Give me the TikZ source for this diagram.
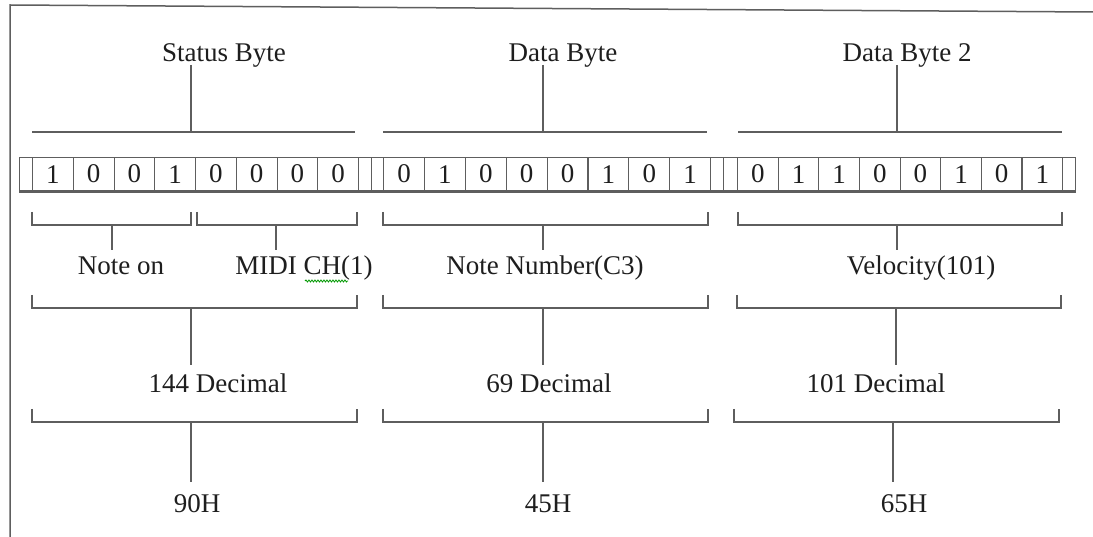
\documentclass[tikz,border=0pt]{standalone}
\usepackage{fontspec}
\setmainfont{Liberation Serif}
\usetikzlibrary{decorations.pathmorphing}
\definecolor{linegray}{HTML}{5E5E5E}
\definecolor{txt}{HTML}{1E1E1E}
\begin{document}
\begin{tikzpicture}[x=1pt,y=-1pt,
  ln/.style={draw=linegray, line width=1.4pt},
  lbl/.style={font=\fontsize{27}{32}\selectfont, text=txt, inner sep=0pt, anchor=base},
  bitbox/.style={draw=linegray, line width=1.2pt, inner sep=0pt, minimum height=33pt,
    anchor=north west, font=\fontsize{27}{32}\selectfont, text=txt}]
\useasboundingbox (0,0) rectangle (1093,537);
\fill[white] (0,0) rectangle (1093,537);
% frame
\draw[linegray, line width=1.5pt] (10,537) -- (10,5) -- (1093,12);

% bit row
\node[bitbox, minimum width=13pt] (p0) at (19,157) {};
\foreach \b [count=\i from 0] in {1,0,0,1,0,0,0,0}
  \node[bitbox, minimum width=40.75pt] (s\i) at ({32+\i*40.75},157) {\b};
\node[bitbox, minimum width=13pt] (p1) at (358,157) {};
\node[bitbox, minimum width=12pt] (p2) at (371,157) {};
\foreach \b [count=\i from 0] in {0,1,0,0,0,1,0,1}
  \node[bitbox, minimum width=40.875pt] (d\i) at ({383+\i*40.875},157) {\b};
\node[bitbox, minimum width=13pt] (p3) at (710,157) {};
\node[bitbox, minimum width=14pt] (p4) at (723,157) {};
\foreach \b [count=\i from 0] in {0,1,1,0,0,1,0,1}
  \node[bitbox, minimum width=40.625pt] (v\i) at ({737+\i*40.625},157) {\b};
\node[bitbox, minimum width=13pt] (p5) at (1062,157) {};
\draw[linegray, line width=2.6pt] ([yshift=-0.6pt]p0.south west) -- ([yshift=-0.6pt]p5.south east);

% top labels and brackets
\node[lbl] (sb) at (224,62) {Status Byte};
\node[lbl] (db) at (563,62) {Data Byte};
\node[lbl] (db2) at (907,62) {Data Byte 2};
\coordinate (tS) at (191,132);
\coordinate (tD) at (543,132);
\coordinate (tV) at (897,132);
\draw[ln] (32,132) -- (355,132);
\draw[ln] (383,132) -- (707,132);
\draw[ln] (738,132) -- (1062,132);
\draw[ln] (tS |- 0,65) -- (tS);
\draw[ln] (tD |- 0,65) -- (tD);
\draw[ln] (tV |- 0,65) -- (tV);

% row A brackets
\draw[ln] (32,212) -- (32,225) -- (191,225) -- (191,212);
\draw[ln] (197,212) -- (197,225) -- (357,225) -- (357,212);
\draw[ln] (383,212) -- (383,225) -- (708,225) -- (708,212);
\draw[ln] (738,212) -- (738,225) -- (1062,225) -- (1062,212);
\coordinate (aN) at (112,225);
\coordinate (aM) at (276,225);
\coordinate (aD) at (543,225);
\coordinate (aV) at (897,225);
\draw[ln] (aN) -- (112,250);
\draw[ln] (aM) -- (276,250);
\draw[ln] (aD) -- (543,250);
\draw[ln] (aV) -- (897,250);
\node[lbl] (non) at (121,275) {Note on};
\node[lbl] (midi) at (304,275) {MIDI CH(1)};
\node[lbl] (nn) at (545,275) {Note Number(C3)};
\node[lbl] (vel) at (921,275) {Velocity(101)};
\draw[green!60!black, line width=0.8pt, decorate,
  decoration={snake, amplitude=1pt, segment length=3pt}] (305,281) -- (348,281);

% row B brackets
\draw[ln] (32,295) -- (32,308) -- (357,308) -- (357,295);
\draw[ln] (383,295) -- (383,308) -- (708,308) -- (708,295);
\draw[ln] (737,295) -- (737,308) -- (1061,308) -- (1061,295);
\draw[ln] (191,308) -- (191,365);
\draw[ln] (543,308) -- (543,365);
\draw[ln] (896,308) -- (896,365);
\node[lbl] (dS) at (218,392) {144 Decimal};
\node[lbl] (dD) at (549,392) {69 Decimal};
\node[lbl] (dV) at (876,392) {101 Decimal};

% row C brackets
\draw[ln] (32,409) -- (32,422) -- (357,422) -- (357,409);
\draw[ln] (383,409) -- (383,422) -- (708,422) -- (708,409);
\draw[ln] (734,409) -- (734,422) -- (1059,422) -- (1059,409);
\draw[ln] (191,422) -- (191,482);
\draw[ln] (543,422) -- (543,482);
\draw[ln] (893,422) -- (893,482);
\node[lbl] (hS) at (197,512) {90H};
\node[lbl] (hD) at (548,512) {45H};
\node[lbl] (hV) at (904,512) {65H};
\end{tikzpicture}
\end{document}
